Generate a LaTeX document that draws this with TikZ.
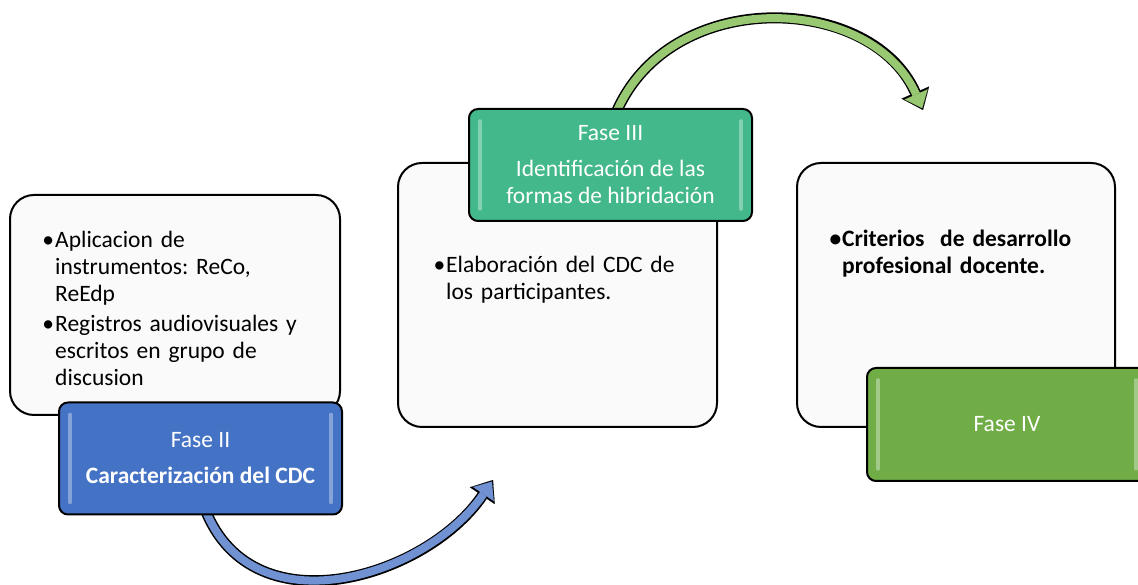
\documentclass[tikz,border=0pt]{standalone}
\usepackage{fontspec}
\setmainfont{Carlito}
\usetikzlibrary{arrows.meta,positioning,backgrounds}

\definecolor{faseblue}{RGB}{68,114,196}
\definecolor{fasejade}{RGB}{67,184,138}
\definecolor{fasegreen}{RGB}{112,173,71}
\definecolor{arrowblue}{RGB}{112,146,211}
\definecolor{arrowgreen}{RGB}{152,200,114}
\definecolor{cardfill}{RGB}{250,250,250}

\newcommand{\bul}{\leavevmode\llap{\textbullet\hspace{1pt}}}

\begin{document}
\begin{tikzpicture}[x=1pt, y=1pt,
  card/.style={draw=black, line width=2pt, rounded corners=24pt, fill=cardfill, inner sep=0pt},
  phase/.style={draw=black, line width=2pt, rounded corners=9pt, text=white, inner sep=0pt,
    minimum width=283pt, minimum height=112pt, align=center,
    font=\fontsize{23.5}{27}\selectfont\frenchspacing},
  listtext/.style={anchor=base west, inner sep=0pt, text width=300pt, align=left,
    font=\fontsize{23.5}{27}\selectfont\frenchspacing},
  gloss/.style={white, opacity=0.35, line width=3.5pt, line cap=round},
  flowout/.style={draw=black, line width=11pt, -{Triangle[length=19pt,width=30pt,line width=0.1pt]}},
  flowin/.style={draw=#1, line width=8pt, shorten >=2pt, -{Triangle[length=15pt,width=25pt,line width=0.1pt,fill=#1]}}]
 \useasboundingbox (0,0) rectangle (1138,585);
 \clip (0,0) rectangle (1138,585);

 % White cards
 \node[card, minimum width=330pt, minimum height=220pt] (cardA) at (175,280) {};
 \node[card, minimum width=319pt, minimum height=264pt] (cardB) at (557.5,290) {};
 \node[card, minimum width=318pt, minimum height=264pt] (cardC) at (956,290) {};

 % Card texts
 \node[listtext] (txtA) at (55,337) {\bul Aplicacion de\\ instrumentos: ReCo,\\ ReEdp\\[3pt]
   \bul Registros audiovisuales y\\ escritos en grupo de\\ discusion};
 \node[listtext] (txtB) at (446,312) {\bul Elaboración del CDC de\\ los participantes.};
 \node[listtext, font=\fontsize{23.5}{27}\selectfont\frenchspacing\bfseries] (txtC) at (842,338)
   {\bul Criterios\ \ de desarrollo\\ profesional docente.};

 % Phase boxes
 \node[phase, fill=faseblue] (fase2) at (200.5,126.5)
   {Fase II\\[9pt]\textbf{Caracterización del CDC}};
 \node[phase, fill=fasejade] (fase3) at (610.5,420)
   {Fase III\\[9pt]Identificación de las\\ formas de hibridación};
 \node[phase, fill=fasegreen, minimum width=280pt, minimum height=113pt] (fase4) at (1007,160.5)
   {Fase IV};

 % Glossy edges
 \foreach \f in {fase2,fase3,fase4} {
   \draw[gloss] ([xshift=12pt,yshift=-13pt]\f.north west) -- ([xshift=12pt,yshift=13pt]\f.south west);
   \draw[gloss] ([xshift=-12pt,yshift=-13pt]\f.north east) -- ([xshift=-12pt,yshift=13pt]\f.south east);
 }

 % Curved arrows between phases
 \coordinate (tipB) at (493,105);
 \coordinate (tipG) at (923,475);
 \begin{scope}[on background layer]
 \draw[flowout] ([yshift=20pt]fase2.south) .. controls (240,-50) and (425,5) .. (tipB);
 \draw[flowin=arrowblue] ([yshift=20pt]fase2.south) .. controls (240,-50) and (425,5) .. (tipB);
 \draw[flowout] ([yshift=-20pt]fase3.north) .. controls (655,600) and (870,595) .. (tipG);
 \draw[flowin=arrowgreen] ([yshift=-20pt]fase3.north) .. controls (655,600) and (870,595) .. (tipG);
 \end{scope}
\end{tikzpicture}
\end{document}
